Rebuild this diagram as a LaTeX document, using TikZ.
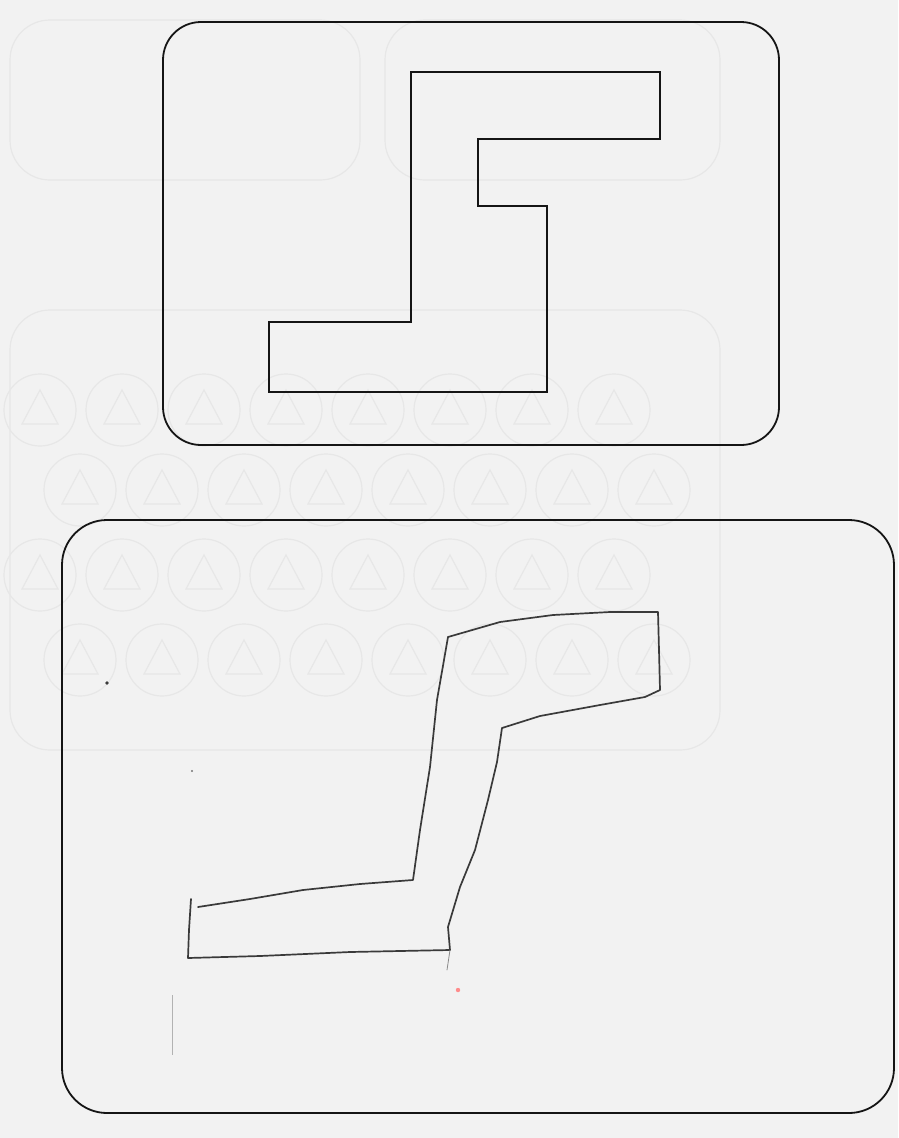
\documentclass[tikz,border=0pt]{standalone}
\usetikzlibrary{shapes.geometric}
\definecolor{paper}{HTML}{F2F2F2}
\definecolor{ghost}{HTML}{E7E7E7}
\definecolor{pencil}{HTML}{3A3A3A}
\definecolor{inkblack}{HTML}{151515}
\tikzset{
  printed/.style={draw=inkblack, line width=2pt, line join=miter},
  frame/.style={draw=inkblack, line width=1.8pt},
  handline/.style={draw=pencil, line width=1.7pt, line join=round, line cap=round},
  ghostline/.style={draw=ghost, line width=1.2pt},
}
\begin{document}
\begin{tikzpicture}[x=1pt,y=-1pt]
\useasboundingbox (0,0) rectangle (898,1138);
\fill[paper] (0,0) rectangle (898,1138);
% faint bleed-through marks
\foreach \r/\yy in {0/410,1/490,2/575,3/660}{
  \foreach \i in {0,...,7}{
    \pgfmathsetmacro{\xx}{40+\i*82+mod(\r,2)*40}
    \draw[ghostline] (\xx,\yy) circle (36);
    \draw[ghostline] (\xx,\yy-20) -- (\xx+18,\yy+14) -- (\xx-18,\yy+14) -- cycle;
  }
}
\draw[ghostline, rounded corners=40] (385,20) rectangle (720,180);
\draw[ghostline, rounded corners=40] (10,310) rectangle (720,750);
\draw[ghostline, rounded corners=40] (10,20) rectangle (360,180);
% top frame
\draw[frame, rounded corners=38] (163,22) rectangle (779,445);
% printed figure
\draw[printed] (411,72) -- (660,72) -- (660,139) -- (478,139) -- (478,206)
  -- (547,206) -- (547,392) -- (269,392) -- (269,322) -- (411,322) -- cycle;
% bottom frame
\draw[frame, rounded corners=45] (62,520) rectangle (894,1113);
% hand-drawn copy
\draw[handline] (448,637) -- (500,622) -- (553,615) -- (610,612) -- (658,612)
  -- (659,650) -- (660,690) -- (645,697) -- (600,705) -- (540,716) -- (502,728)
  -- (497,762) -- (488,800) -- (475,850) -- (460,887) -- (448,927) -- (450,950)
  -- (350,952) -- (260,956) -- (188,958) -- (189,930) -- (191,899);
\draw[handline] (198,907) -- (250,899) -- (303,890) -- (360,884) -- (413,880)
  -- (420,830) -- (430,767) -- (437,700) -- (448,637);
\draw[handline, line width=0.8pt, draw=pencil!60] (450,950) -- (447,970);
% stray marks
\fill[pencil] (107,683) circle (1.8);
\fill[pencil!70] (192,771) circle (1.2);
\draw[draw=gray!60, line width=1pt] (172,995) -- (172,1055);
\fill[red!45] (458,990) circle (2.2);
\end{tikzpicture}
\end{document}
